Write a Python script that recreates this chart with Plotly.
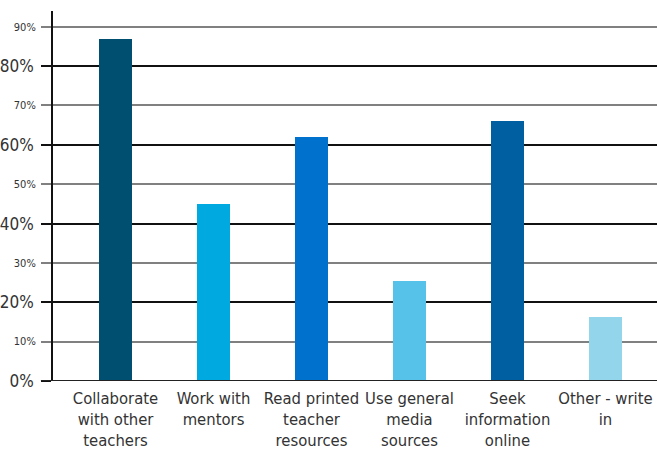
import plotly.graph_objects as go

categories = ["Collaborate<br>with other<br>teachers", "Work with<br>mentors",
              "Read printed<br>teacher<br>resources", "Use general<br>media<br>sources",
              "Seek<br>information<br>online", "Other - write<br>in"]
values = [87, 45, 62, 25.3, 66, 16.2]
colors = ["#004f71", "#00a9e0", "#0072ce", "#56c2ea", "#005fa0", "#93d5ea"]
major_ticks = [0, 20, 40, 60, 80]
major_labels = ["0%", "20%", "40%", "60%", "80%"]
minor_ticks = [10, 30, 50, 70, 90]
minor_labels = ["10%", "30%", "50%", "70%", "90%"]

FONT = "Liberation Sans Narrow, DejaVu Sans Condensed, Roboto, sans-serif"

fig = go.Figure()
fig.add_trace(go.Bar(x=list(range(len(categories))), y=values, marker_color=colors,
                     marker_line_width=0, width=0.337, showlegend=False))
# invisible trace to bind secondary axis
fig.add_trace(go.Scatter(x=[0], y=[0], yaxis="y2", mode="markers",
                         marker=dict(opacity=0), showlegend=False, hoverinfo="skip"))

yr = [0, 94]
fig.update_layout(
    width=657, height=451,
    margin=dict(l=53, r=0, t=11, b=70),
    plot_bgcolor="white", paper_bgcolor="white",
    bargap=0,
    xaxis=dict(range=[-0.638, 5.526], tickvals=list(range(len(categories))),
               ticktext=categories, showgrid=False, zeroline=False,
               showline=False, ticks="", ticklabelstandoff=5, automargin=False,
               tickfont=dict(family=FONT, size=16.5, color="#333333")),
    yaxis=dict(range=yr, tickvals=major_ticks, ticktext=major_labels,
               showgrid=True, gridcolor="#111111", gridwidth=2,
               ticks="outside", ticklen=10, tickcolor="#111111", tickwidth=2,
               showline=True, linecolor="#111111", linewidth=1.5,
               zeroline=False, ticklabelstandoff=4, automargin=False,
               tickfont=dict(family=FONT, size=17, color="#333333"),
               minor=dict(tickvals=minor_ticks, showgrid=True, gridcolor="#808080",
                          gridwidth=1.5, ticks="outside", ticklen=10,
                          tickcolor="#808080", tickwidth=1.5)),
    yaxis2=dict(range=yr, overlaying="y", side="left", anchor="x",
                tickvals=minor_ticks, ticktext=minor_labels, showgrid=False,
                zeroline=False, showline=False, ticks="outside", ticklen=10,
                tickcolor="rgba(0,0,0,0)", ticklabelstandoff=4, automargin=False,
                tickfont=dict(family=FONT, size=11, color="#333333")),
    shapes=[dict(type="line", xref="paper", yref="y", x0=-0.02, x1=1, y0=0, y1=0,
                 line=dict(color="#222222", width=2))],
)
fig.write_html("out.html")
